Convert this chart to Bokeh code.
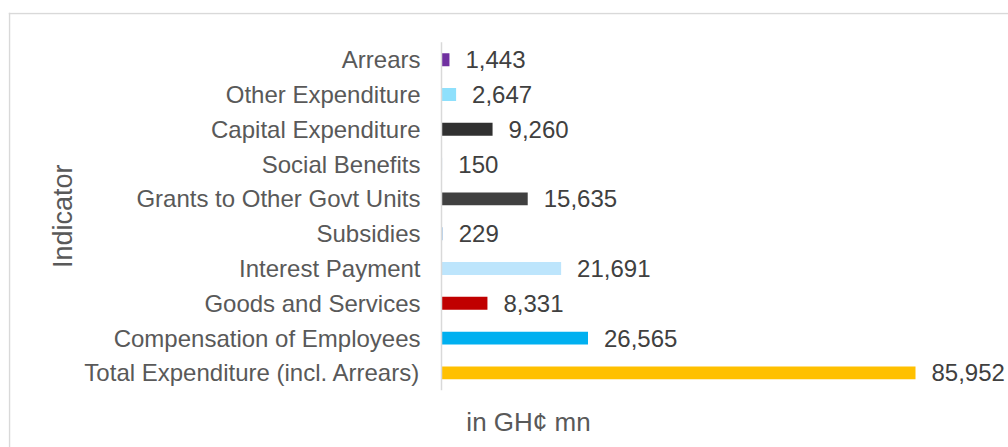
import math
from bokeh.plotting import figure
from bokeh.models import Range1d, ColumnDataSource, Span
from bokeh.core.properties import value
from bokeh.embed import file_html
from bokeh.resources import INLINE

# Data (bottom -> top)
categories = [
    "Total Expenditure (incl. Arrears)",
    "Compensation of Employees",
    "Goods and Services",
    "Interest Payment",
    "Subsidies",
    "Grants to Other Govt Units",
    "Social Benefits",
    "Capital Expenditure",
    "Other Expenditure",
    "Arrears",
]
values = [85952, 26565, 8331, 21691, 229, 15635, 150, 9260, 2647, 1443]
colors = ["#FFC000", "#00B0F0", "#C00000", "#BDE5FC", "#9DC3E6",
          "#404040", "#DEEBF7", "#303030", "#8EE0FC", "#7030A0"]
x_title = "in GH¢ mn"
y_title = "Indicator"

FONT = "Liberation Sans"

# --- layout geometry (pixels) ---
W, H = 1008, 447
FRAME_L, FRAME_T = 8, 12
AXIS_PX = 433            # axis position from frame left
PX_PER_UNIT = 474 / 85952.0
ROW_PX = 34.8
BOTTOM_GAP = 74.6        # from centre of lowest row to frame bottom

frame_w = W - FRAME_L
frame_h = H - FRAME_T
x_start = -AXIS_PX / PX_PER_UNIT
x_end = (frame_w - AXIS_PX) / PX_PER_UNIT
y_start = -BOTTOM_GAP / ROW_PX
y_end = (frame_h - BOTTOM_GAP) / ROW_PX

pos = list(range(len(categories)))
labels = [f"{v:,}" for v in values]
source = ColumnDataSource(dict(y=pos, category=categories, value=values, color=colors, label=labels))

p = figure(
    width=W, height=H,
    x_range=Range1d(x_start, x_end), y_range=Range1d(y_start, y_end),
    output_backend="svg", toolbar_location=None,
    min_border_left=FRAME_L, min_border_top=FRAME_T, min_border_right=0, min_border_bottom=0,
)
p.outline_line_color = None
p.xgrid.visible = False
p.ygrid.visible = False
p.xaxis.visible = False
p.yaxis.visible = False

# chart-area border (top and left edges visible in the crop)
p.add_layout(Span(location=x_start + 1 / PX_PER_UNIT, dimension="height",
                  line_color="#D9D9D9", line_width=1.5))
p.add_layout(Span(location=y_end - 1 / ROW_PX, dimension="width",
                  line_color="#D9D9D9", line_width=1.5))

# bars
p.hbar(y="y", left=0, right="value", height=0.37, color="color", source=source, line_color=None)

# vertical category axis line
p.segment(x0=0, y0=-0.5, x1=0, y1=len(categories) - 0.5, line_color="#D9D9D9", line_width=1.5)

# category labels
p.text(x=0, y="y", text="category", source=source, x_offset=-21,
       text_align="right", text_baseline="middle",
       text_font=value(FONT), text_font_size="24px", text_color="#595959")

# value labels
p.text(x="value", y="y", text="label", source=source, x_offset=16,
       text_align="left", text_baseline="middle",
       text_font=value(FONT), text_font_size="24px", text_color="#404040")

# axis titles
p.text(x=0, y=(len(categories) - 1) / 2, text=[y_title], x_offset=-379, angle=math.pi / 2,
       text_align="center", text_baseline="middle",
       text_font=value(FONT), text_font_size="27px", text_color="#595959")
p.text(x=0, y=-0.5, text=[x_title], x_offset=87, y_offset=32,
       text_align="center", text_baseline="middle",
       text_font=value(FONT), text_font_size="26px", text_color="#595959")

open("out.html", "w").write(file_html(p, INLINE))
